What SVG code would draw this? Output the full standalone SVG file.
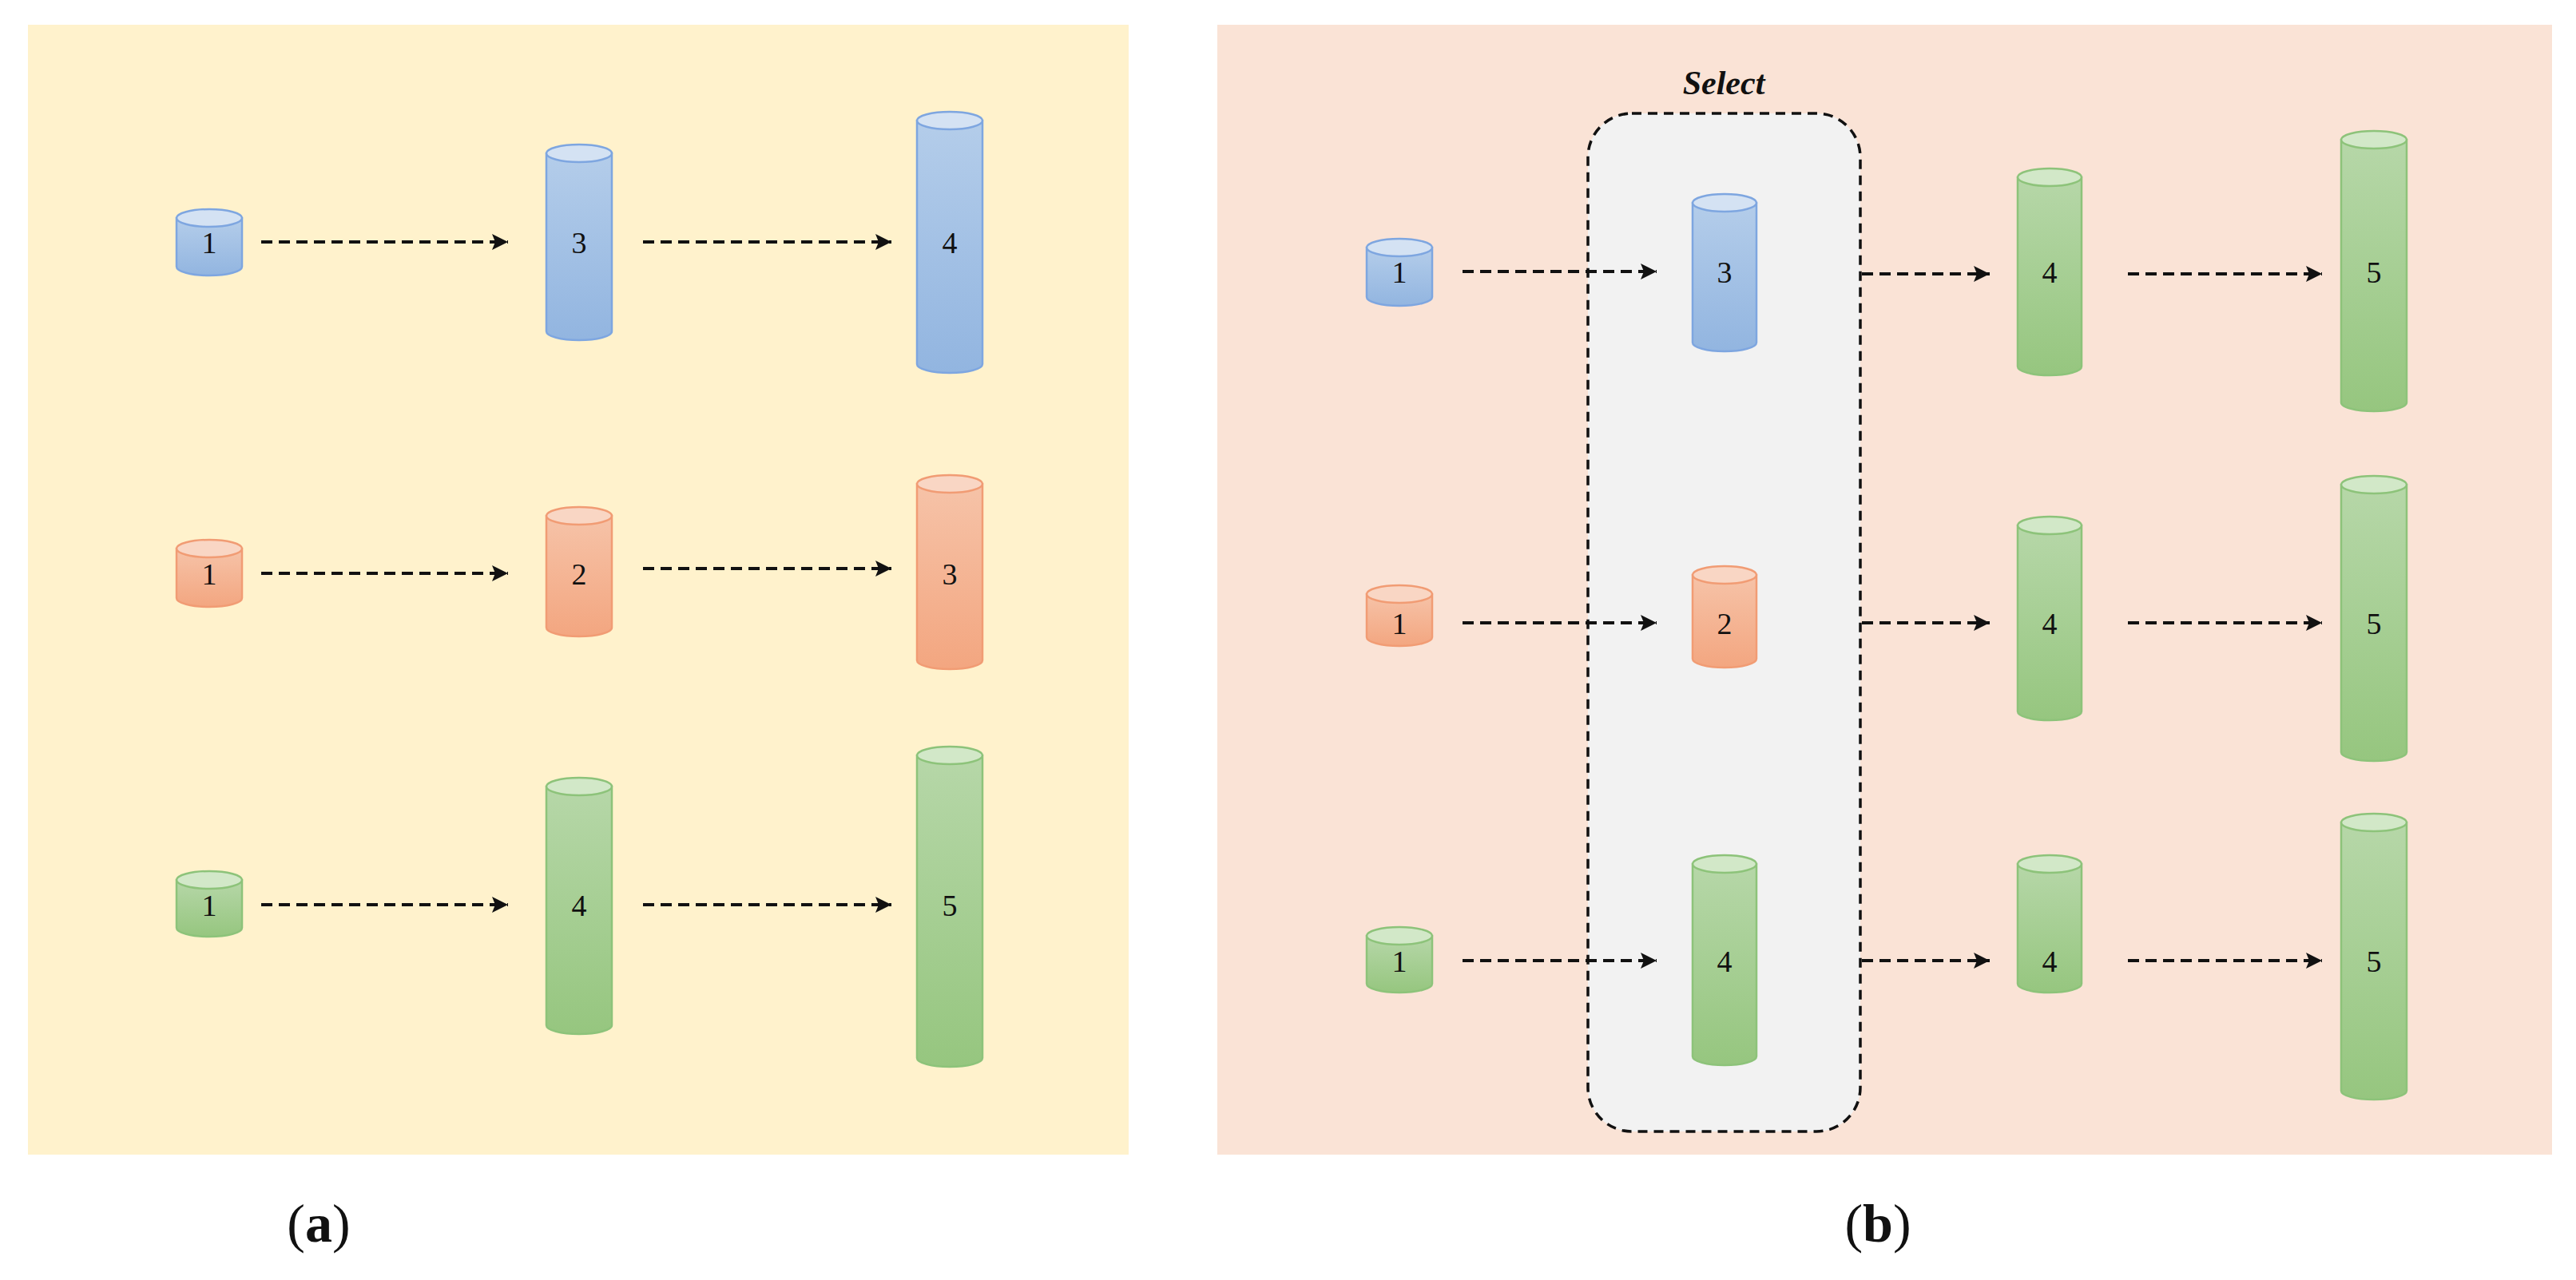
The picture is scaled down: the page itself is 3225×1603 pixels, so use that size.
<svg xmlns="http://www.w3.org/2000/svg" width="3225" height="1603" viewBox="0 0 3225 1603">
<style>
.num{font-family:"Liberation Serif",serif;font-size:38px;text-anchor:middle;fill:#111}
.bl{fill:url(#gb);stroke:#7EA6E0;stroke-width:2.5}
.blt{fill:#D4E2F3;stroke:#7EA6E0;stroke-width:2.5}
.or{fill:url(#go);stroke:#F19C74;stroke-width:2.5}
.ort{fill:#F9D6C4;stroke:#F19C74;stroke-width:2.5}
.gr{fill:url(#gg);stroke:#8DC37A;stroke-width:2.5}
.grt{fill:#D2E8C8;stroke:#8DC37A;stroke-width:2.5}
.ar{stroke:#111;stroke-width:4;stroke-dasharray:14 8;fill:none;marker-end:url(#ah)}
.cap{font-family:"Liberation Serif",serif;font-size:68px;text-anchor:middle;fill:#111}
</style>
<defs>
<linearGradient id="gb" x1="0" y1="0" x2="0" y2="1"><stop offset="0" stop-color="#B4CDEA"/><stop offset="1" stop-color="#92B5E0"/></linearGradient>
<linearGradient id="go" x1="0" y1="0" x2="0" y2="1"><stop offset="0" stop-color="#F6C3A8"/><stop offset="1" stop-color="#F3A680"/></linearGradient>
<linearGradient id="gg" x1="0" y1="0" x2="0" y2="1"><stop offset="0" stop-color="#B6D7A8"/><stop offset="1" stop-color="#96C67F"/></linearGradient>
<marker id="ah" viewBox="0 0 10 10" refX="10" refY="5" markerWidth="5" markerHeight="5" orient="auto" markerUnits="strokeWidth"><path d="M0,0 L10,5 L0,10 L2,5 Z" fill="#111"/></marker>
</defs>
<rect width="3225" height="1603" fill="#fff"/>
<rect x="35" y="31" width="1378" height="1415" fill="#FFF2CC"/>
<rect x="1524" y="31" width="1671" height="1415" fill="#FAE3D6"/>
<g id="selectbox">
<rect x="1988" y="142" width="341" height="1275" rx="55" ry="55" fill="#F2F2F2" stroke="#111" stroke-width="3.5" stroke-dasharray="12 8"/>
<text x="2158" y="118" font-family="Liberation Serif,serif" font-size="42" font-weight="bold" font-style="italic" text-anchor="middle" fill="#111">Select</text>
</g>
<g id="a-blue1"><path class="bl" d="M221,273 V334 A41,11 0 0 0 303,334 V273 Z"/><ellipse class="blt" cx="262" cy="273" rx="41" ry="11"/><text class="num" x="262" y="317">1</text></g>
<g id="a-blue3"><path class="bl" d="M684,192 V415 A41,11 0 0 0 766,415 V192 Z"/><ellipse class="blt" cx="725" cy="192" rx="41" ry="11"/><text class="num" x="725" y="317">3</text></g>
<g id="a-blue4"><path class="bl" d="M1148,151 V456 A41,11 0 0 0 1230,456 V151 Z"/><ellipse class="blt" cx="1189" cy="151" rx="41" ry="11"/><text class="num" x="1189" y="317">4</text></g>
<g id="a-or1"><path class="or" d="M221,687 V749 A41,11 0 0 0 303,749 V687 Z"/><ellipse class="ort" cx="262" cy="687" rx="41" ry="11"/><text class="num" x="262" y="732">1</text></g>
<g id="a-or2"><path class="or" d="M684,646 V786 A41,11 0 0 0 766,786 V646 Z"/><ellipse class="ort" cx="725" cy="646" rx="41" ry="11"/><text class="num" x="725" y="732">2</text></g>
<g id="a-or3"><path class="or" d="M1148,606 V827 A41,11 0 0 0 1230,827 V606 Z"/><ellipse class="ort" cx="1189" cy="606" rx="41" ry="11"/><text class="num" x="1189" y="732">3</text></g>
<g id="a-gr1"><path class="gr" d="M221,1102 V1162 A41,11 0 0 0 303,1162 V1102 Z"/><ellipse class="grt" cx="262" cy="1102" rx="41" ry="11"/><text class="num" x="262" y="1147">1</text></g>
<g id="a-gr4"><path class="gr" d="M684,985 V1284 A41,11 0 0 0 766,1284 V985 Z"/><ellipse class="grt" cx="725" cy="985" rx="41" ry="11"/><text class="num" x="725" y="1147">4</text></g>
<g id="a-gr5"><path class="gr" d="M1148,946 V1325 A41,11 0 0 0 1230,1325 V946 Z"/><ellipse class="grt" cx="1189" cy="946" rx="41" ry="11"/><text class="num" x="1189" y="1147">5</text></g>
<g id="b-blue1"><path class="bl" d="M1711,310 V372 A41,11 0 0 0 1793,372 V310 Z"/><ellipse class="blt" cx="1752" cy="310" rx="41" ry="11"/><text class="num" x="1752" y="354">1</text></g>
<g id="b-blue3"><path class="bl" d="M2119,254 V429 A40,11 0 0 0 2199,429 V254 Z"/><ellipse class="blt" cx="2159" cy="254" rx="40" ry="11"/><text class="num" x="2159" y="354">3</text></g>
<g id="b-gr4a"><path class="gr" d="M2526,222 V459 A40,11 0 0 0 2606,459 V222 Z"/><ellipse class="grt" cx="2566" cy="222" rx="40" ry="11"/><text class="num" x="2566" y="354">4</text></g>
<g id="b-gr5a"><path class="gr" d="M2931,175 V504 A41,11 0 0 0 3013,504 V175 Z"/><ellipse class="grt" cx="2972" cy="175" rx="41" ry="11"/><text class="num" x="2972" y="354">5</text></g>
<g id="b-or1"><path class="or" d="M1711,744 V798 A41,11 0 0 0 1793,798 V744 Z"/><ellipse class="ort" cx="1752" cy="744" rx="41" ry="11"/><text class="num" x="1752" y="794">1</text></g>
<g id="b-or2"><path class="or" d="M2119,720 V825 A40,11 0 0 0 2199,825 V720 Z"/><ellipse class="ort" cx="2159" cy="720" rx="40" ry="11"/><text class="num" x="2159" y="794">2</text></g>
<g id="b-gr4b"><path class="gr" d="M2526,658 V891 A40,11 0 0 0 2606,891 V658 Z"/><ellipse class="grt" cx="2566" cy="658" rx="40" ry="11"/><text class="num" x="2566" y="794">4</text></g>
<g id="b-gr5b"><path class="gr" d="M2931,607 V942 A41,11 0 0 0 3013,942 V607 Z"/><ellipse class="grt" cx="2972" cy="607" rx="41" ry="11"/><text class="num" x="2972" y="794">5</text></g>
<g id="b-gr1"><path class="gr" d="M1711,1172 V1232 A41,11 0 0 0 1793,1232 V1172 Z"/><ellipse class="grt" cx="1752" cy="1172" rx="41" ry="11"/><text class="num" x="1752" y="1217">1</text></g>
<g id="b-gr4c"><path class="gr" d="M2119,1082 V1323 A40,11 0 0 0 2199,1323 V1082 Z"/><ellipse class="grt" cx="2159" cy="1082" rx="40" ry="11"/><text class="num" x="2159" y="1217">4</text></g>
<g id="b-gr4d"><path class="gr" d="M2526,1082 V1232 A40,11 0 0 0 2606,1232 V1082 Z"/><ellipse class="grt" cx="2566" cy="1082" rx="40" ry="11"/><text class="num" x="2566" y="1217">4</text></g>
<g id="b-gr5c"><path class="gr" d="M2931,1030 V1366 A41,11 0 0 0 3013,1366 V1030 Z"/><ellipse class="grt" cx="2972" cy="1030" rx="41" ry="11"/><text class="num" x="2972" y="1217">5</text></g>
<g id="connectors">
<line class="ar" x1="327" y1="303" x2="636" y2="303"/>
<line class="ar" x1="805" y1="303" x2="1116" y2="303"/>
<line class="ar" x1="327" y1="718" x2="636" y2="718"/>
<line class="ar" x1="805" y1="712" x2="1116" y2="712"/>
<line class="ar" x1="327" y1="1133" x2="636" y2="1133"/>
<line class="ar" x1="805" y1="1133" x2="1116" y2="1133"/>
<line class="ar" x1="1831" y1="340" x2="2074" y2="340"/>
<line class="ar" x1="2331" y1="343" x2="2491" y2="343"/>
<line class="ar" x1="2664" y1="343" x2="2907" y2="343"/>
<line class="ar" x1="1831" y1="780" x2="2074" y2="780"/>
<line class="ar" x1="2331" y1="780" x2="2491" y2="780"/>
<line class="ar" x1="2664" y1="780" x2="2907" y2="780"/>
<line class="ar" x1="1831" y1="1203" x2="2074" y2="1203"/>
<line class="ar" x1="2331" y1="1203" x2="2491" y2="1203"/>
<line class="ar" x1="2664" y1="1203" x2="2907" y2="1203"/>
</g>
<text class="cap" x="399" y="1555">(<tspan font-weight="bold">a</tspan>)</text>
<text class="cap" x="2351" y="1555">(<tspan font-weight="bold">b</tspan>)</text>
</svg>
